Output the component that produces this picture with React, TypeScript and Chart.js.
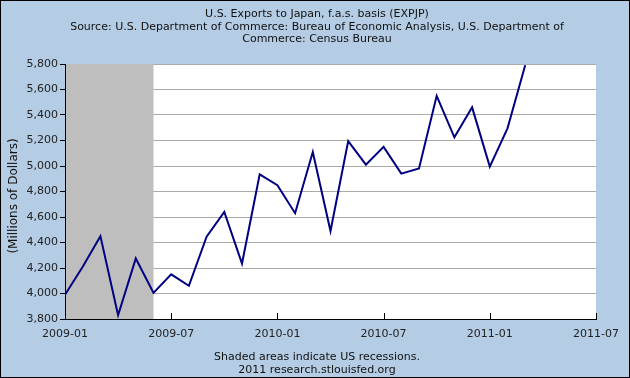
import React, { useEffect, useRef } from "react";
import { Chart, registerables } from "chart.js";

Chart.register(...registerables);

// ---- data ----
const months: string[] = [
  "2009-01", "2009-02", "2009-03", "2009-04", "2009-05", "2009-06",
  "2009-07", "2009-08", "2009-09", "2009-10", "2009-11", "2009-12",
  "2010-01", "2010-02", "2010-03", "2010-04", "2010-05", "2010-06",
  "2010-07", "2010-08", "2010-09", "2010-10", "2010-11", "2010-12",
  "2011-01", "2011-02", "2011-03",
];
const exportsToJapan: number[] = [
  3990, 4210, 4450, 3830, 4275, 4005,
  4150, 4060, 4445, 4640, 4235, 4935,
  4850, 4630, 5110, 4490, 5195, 5010,
  5150, 4940, 4980, 5550, 5225, 5460,
  4995, 5295, 5790,
];
const xTickLabels: string[] = ["2009-01", "2009-07", "2010-01", "2010-07", "2011-01", "2011-07"];
const recessionStart = "2009-01";
const recessionEnd = "2009-06";
const yMin = 3800;
const yMax = 5800;
const yStep = 200;

const titleLines: string[] = [
  "U.S. Exports to Japan, f.a.s. basis (EXPJP)",
  "Source: U.S. Department of Commerce: Bureau of Economic Analysis, U.S. Department of",
  "Commerce: Census Bureau",
];
const yAxisTitle = "(Millions of Dollars)";
const footerLines: string[] = ["Shaded areas indicate US recessions.", "2011 research.stlouisfed.org"];

const monthIndex = (s: string) => {
  const [y, m] = s.split("-").map(Number);
  return (y - 2009) * 12 + (m - 1);
};

const FONT = "'DejaVu Sans', 'Noto Sans', sans-serif";

export default function App() {
  const ref = useRef<HTMLCanvasElement | null>(null);

  useEffect(() => {
    if (!ref.current) return;
    const decor = {
      id: "decor",
      beforeDraw(chart: any) {
        const { ctx, chartArea, width, height } = chart;
        ctx.save();
        ctx.fillStyle = "#b4cce4";
        ctx.fillRect(0, 0, width, height);
        ctx.fillStyle = "#ffffff";
        ctx.fillRect(chartArea.left, chartArea.top, chartArea.right - chartArea.left, chartArea.bottom - chartArea.top);
        ctx.restore();
      },
      beforeDatasetsDraw(chart: any) {
        const { ctx, chartArea, scales } = chart;
        const xs = scales.x.getPixelForValue(monthIndex(recessionStart));
        const xe = scales.x.getPixelForValue(monthIndex(recessionEnd));
        ctx.save();
        ctx.fillStyle = "#bebebe";
        const x0 = Math.max(xs, chartArea.left + 1);
        ctx.fillRect(x0, chartArea.top, xe - x0, chartArea.bottom - chartArea.top);
        ctx.restore();
      },
      afterDraw(chart: any) {
        const { ctx, chartArea, scales, width, height } = chart;
        ctx.save();
        // inward x tick marks
        ctx.strokeStyle = "#000";
        ctx.lineWidth = 1;
        scales.x.ticks.forEach((t: any) => {
          const x = Math.round(scales.x.getPixelForValue(t.value)) + 0.5;
          ctx.beginPath();
          ctx.moveTo(x, chartArea.bottom);
          ctx.lineTo(x, chartArea.bottom - 6);
          ctx.stroke();
        });
        // titles
        ctx.fillStyle = "#111";
        ctx.font = `11px ${FONT}`;
        ctx.textAlign = "center";
        ctx.textBaseline = "alphabetic";
        const cx = 317;
        titleLines.forEach((l, i) => ctx.fillText(l, cx, 17 + i * 12.5));
        footerLines.forEach((l, i) => ctx.fillText(l, cx, 359.5 + i * 13));
        // y axis title
        ctx.save();
        ctx.translate(14, 196);
        ctx.rotate(-Math.PI / 2);
        ctx.font = `12px ${FONT}`;
        ctx.textBaseline = "middle";
        ctx.fillText(yAxisTitle, 0, 0);
        ctx.restore();
        // outer border
        ctx.strokeStyle = "#000";
        ctx.lineWidth = 1;
        ctx.strokeRect(0.5, 0.5, width - 1, height - 1);
        ctx.restore();
      },
    };

    const chart = new Chart(ref.current, {
      type: "line",
      data: {
        datasets: [
          {
            label: "EXPJP",
            data: months.map((m, i) => ({ x: monthIndex(m), y: exportsToJapan[i] })),
            borderColor: "#000080",
            borderWidth: 2,
            pointRadius: 0,
            tension: 0,
            fill: false,
          },
        ],
      },
      options: {
        responsive: false,
        animation: false,
        events: [],
        layout: { padding: { top: 64, right: 34, bottom: 0, left: 0 } },
        plugins: { legend: { display: false }, tooltip: { enabled: false }, title: { display: false } },
        scales: {
          x: {
            type: "linear",
            min: monthIndex(xTickLabels[0]),
            max: monthIndex(xTickLabels[xTickLabels.length - 1]),
            afterFit: (s: any) => {
              s.height = 59;
            },
            afterBuildTicks: (s: any) => {
              s.ticks = xTickLabels.map((l) => ({ value: monthIndex(l) }));
            },
            grid: { display: false, drawTicks: false },
            border: { display: true, color: "#000", width: 1 },
            ticks: {
              autoSkip: false,
              maxRotation: 0,
              padding: 9,
              color: "#222",
              font: { family: FONT, size: 11 },
              callback: (v: any) => xTickLabels.find((l) => monthIndex(l) === v) ?? "",
            },
          },
          y: {
            min: yMin,
            max: yMax,
            afterFit: (s: any) => {
              s.width = 65;
            },
            grid: { color: "#aaaaaa", lineWidth: 1, tickColor: "#000", tickLength: 5, drawTicks: true },
            border: { display: true, color: "#000", width: 1 },
            ticks: {
              stepSize: yStep,
              padding: 2,
              color: "#222",
              font: { family: FONT, size: 11 },
              callback: (v: any) => Number(v).toLocaleString("en-US"),
            },
          },
        },
      },
      plugins: [decor],
    });
    return () => chart.destroy();
  }, []);

  return (
    <div style={{ position: "fixed", left: 0, top: 0, width: 630, height: 378 }}>
      <canvas ref={ref} width={630} height={378} style={{ display: "block", width: 630, height: 378 }} />
    </div>
  );
}
